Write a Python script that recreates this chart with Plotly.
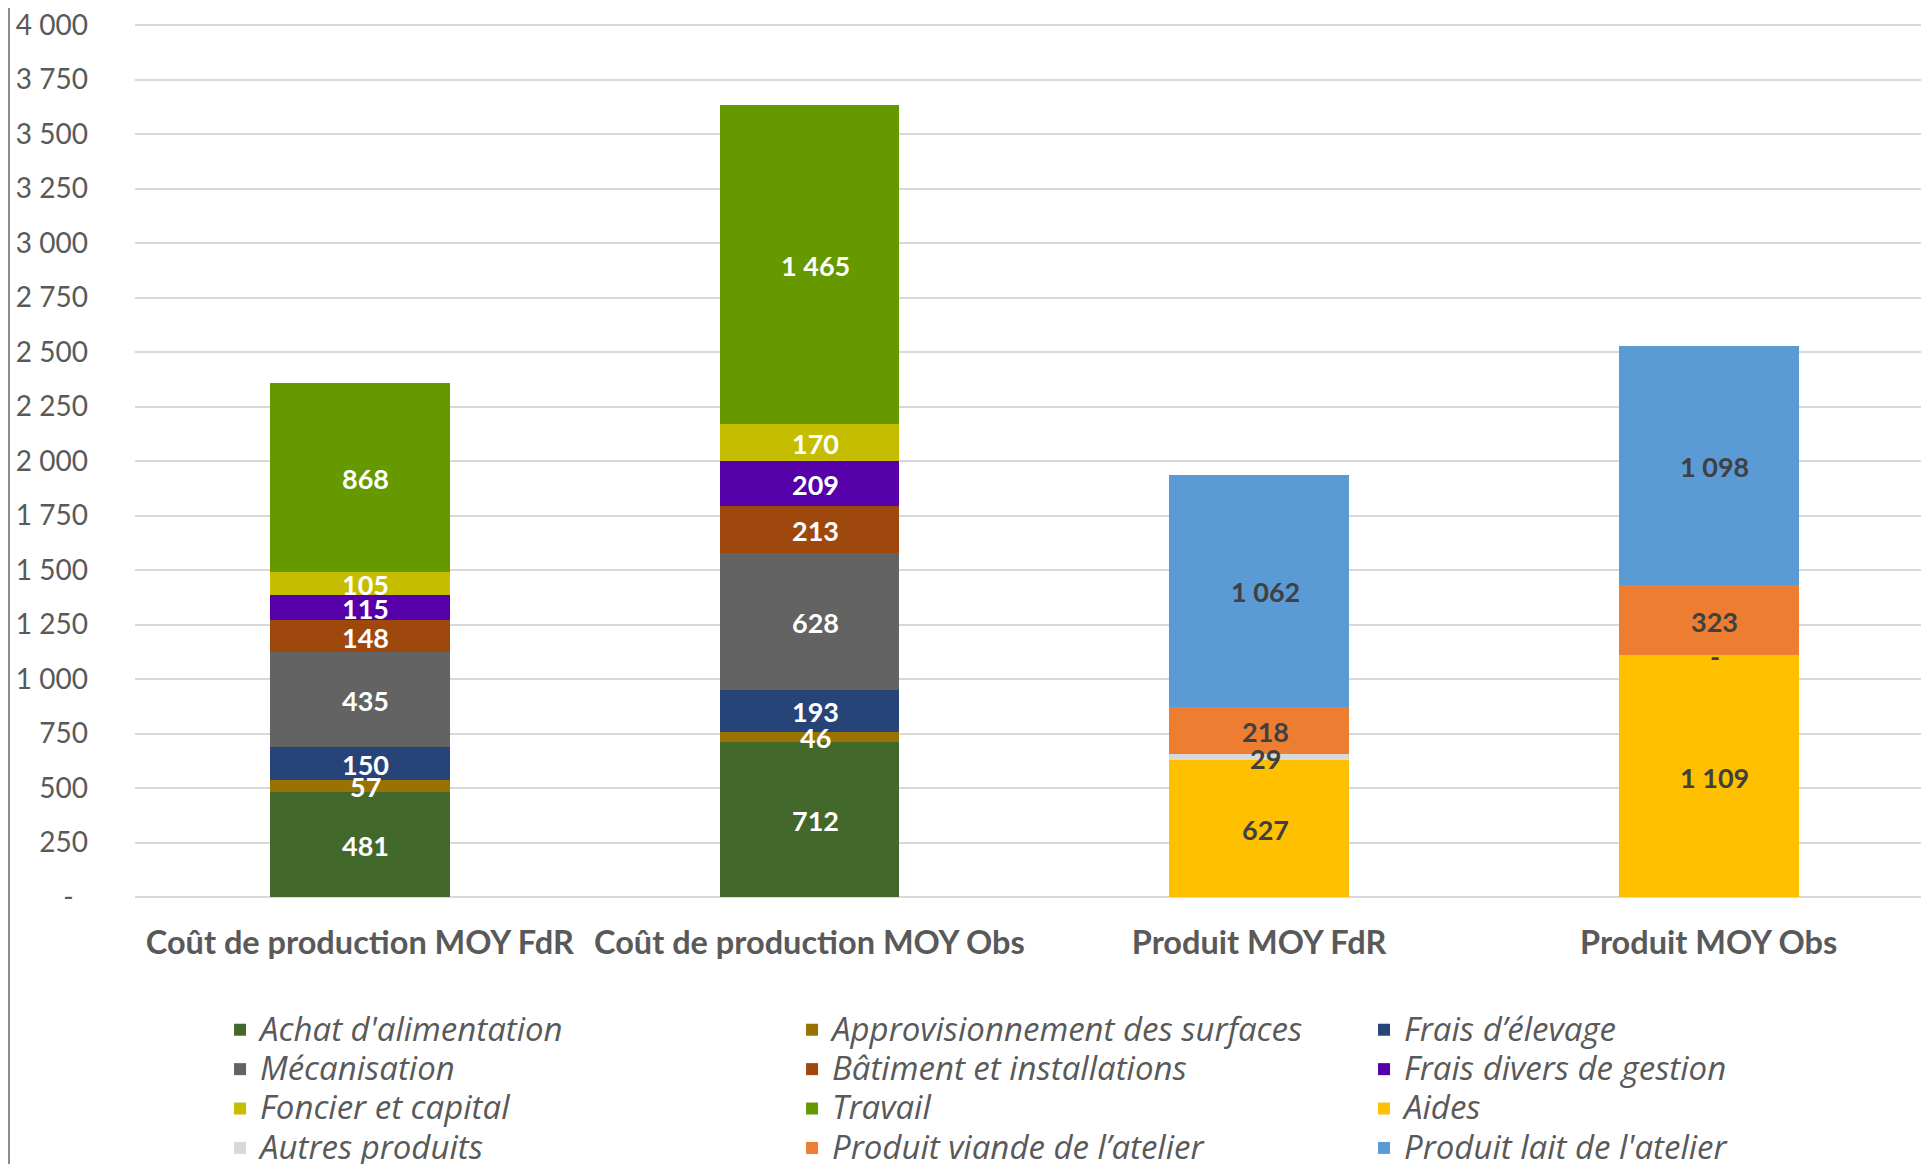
import plotly.graph_objects as go

categories = ["Coût de production MOY FdR", "Coût de production MOY Obs",
              "Produit MOY FdR", "Produit MOY Obs"]

series_names = ["Achat d'alimentation", "Approvisionnement des surfaces", "Frais d’élevage",
                "Mécanisation", "Bâtiment et installations", "Frais divers de gestion",
                "Foncier et capital", "Travail", "Aides",
                "Autres produits", "Produit viande de l’atelier", "Produit lait de l'atelier"]

achat_alimentation = [481, 712, None, None]
approvisionnement_surfaces = [57, 46, None, None]
frais_elevage = [150, 193, None, None]
mecanisation = [435, 628, None, None]
batiment_installations = [148, 213, None, None]
frais_divers_gestion = [115, 209, None, None]
foncier_capital = [105, 170, None, None]
travail = [868, 1465, None, None]
aides = [None, None, 627, 1109]
autres_produits = [None, None, 29, 0]
produit_viande = [None, None, 218, 323]
produit_lait = [None, None, 1062, 1098]

series_values = [achat_alimentation, approvisionnement_surfaces, frais_elevage, mecanisation,
                 batiment_installations, frais_divers_gestion, foncier_capital, travail,
                 aides, autres_produits, produit_viande, produit_lait]

colors = ["#43682B", "#997300", "#264478", "#636363", "#9E480E", "#5500A8",
          "#C5BE00", "#669900", "#FFC000", "#D9D9D9", "#ED7D31", "#5B9BD5"]
label_colors = ["#FFFFFF"] * 8 + ["#404040"] * 4

y_tickvals = [0, 250, 500, 750, 1000, 1250, 1500, 1750, 2000, 2250, 2500, 2750, 3000, 3250, 3500, 3750, 4000]
y_ticktext = ["-\u00a0\u00a0", "250", "500", "750", "1 000", "1 250", "1 500", "1 750", "2 000",
              "2 250", "2 500", "2 750", "3 000", "3 250", "3 500", "3 750", "4 000"]

FONT = "Lato, 'Open Sans', sans-serif"
LEGEND_FONT = "'Open Sans', Lato, sans-serif"
GRAY = "#595959"


def fmt(v):
    # Excel accounting style: thousands separated by a space, zero shown as "-"
    return "-" if v == 0 else f"{v:,}".replace(",", "\u00a0")


fig = go.Figure()
for name, vals, col in zip(series_names, series_values, colors):
    fig.add_trace(go.Bar(
        name=f'<span style="font-size:33px">{name}</span>',
        x=categories, y=vals, marker=dict(color=col, line=dict(width=0)),
        hovertemplate=name + ": %{y}<extra></extra>",
    ))

# data labels drawn above all bars (as Excel does), centred in each stacked segment
base = [0.0] * len(categories)
annotations = []
for vals, lcol in zip(series_values, label_colors):
    for i, v in enumerate(vals):
        if v is None:
            continue
        annotations.append(dict(
            x=categories[i], y=base[i] + v / 2, xref="x", yref="y",
            text=fmt(v), showarrow=False, xanchor="center", yanchor="middle",
            xshift=6, yshift=-1,
            font=dict(family=FONT, size=27, color=lcol, weight="bold"),
        ))
        base[i] += v

fig.update_layout(
    width=1929, height=1164,
    barmode="stack", bargap=0.6,
    paper_bgcolor="white", plot_bgcolor="white",
    margin=dict(l=127, r=8, t=15, b=275, autoexpand=False),
    separators=", ",
    font=dict(family=FONT, color=GRAY),
    xaxis=dict(range=[-0.5, 3.49], showgrid=False, showline=False, zeroline=False,
               ticks="", ticklabelstandoff=23, ticklabeloverflow="allow",
               tickfont=dict(family=FONT, size=32.5, color=GRAY, weight="bold")),
    yaxis=dict(range=[0, 4010], tickvals=y_tickvals, ticktext=y_ticktext,
               showgrid=True, gridcolor="#D9D9D9", gridwidth=1.5,
               zeroline=True, zerolinecolor="#D9D9D9", zerolinewidth=1.5,
               showline=False, ticks="", ticklabelstandoff=46, ticklabeloverflow="allow",
               tickfont=dict(family=FONT, size=28, color=GRAY)),
    legend=dict(orientation="h", x=0.0474, xanchor="left", y=-0.1236, yanchor="top",
                entrywidth=527, entrywidthmode="pixels", traceorder="normal",
                font=dict(family=LEGEND_FONT, size=28, color=GRAY, style="italic"),
                bgcolor="rgba(0,0,0,0)", borderwidth=0),
    annotations=annotations,
    shapes=[dict(type="line", xref="paper", yref="paper",
                 x0=-0.0708, x1=-0.0708, y0=-0.4, y1=1.1,
                 line=dict(color="#8C8C8C", width=4))],
)

fig.write_html("out.html")
